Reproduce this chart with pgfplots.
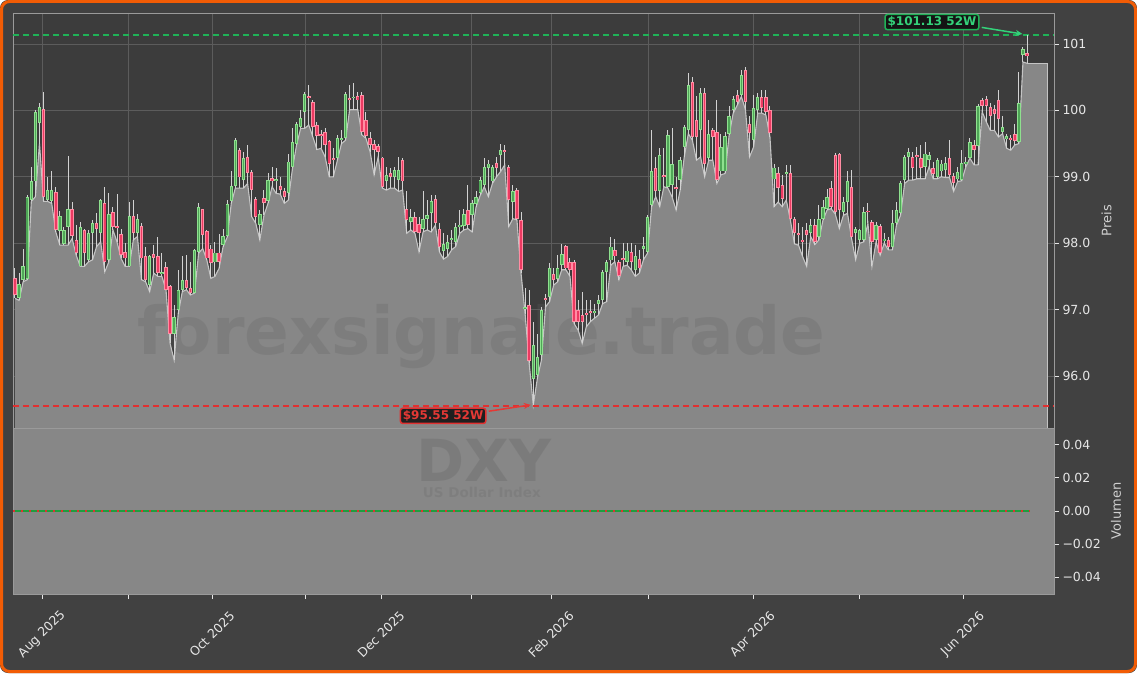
\documentclass[border=0pt]{standalone}
\usepackage{fontspec}
\setmainfont{DejaVu Sans}
\usepackage{pgfplots}
\pgfplotsset{compat=1.18}
\usepackage{pgfplotstable}
\usetikzlibrary{arrows.meta}

\definecolor{figbg}{HTML}{414141}
\definecolor{axbg}{HTML}{3C3C3C}
\definecolor{frameor}{HTML}{F25C05}
\definecolor{gridc}{HTML}{5C5C5C}
\definecolor{spine}{HTML}{9A9A9A}
\definecolor{tickc}{HTML}{E6E6E6}
\definecolor{labc}{HTML}{CFCFCF}
\definecolor{areafill}{HTML}{878787}
\definecolor{arealine}{HTML}{C4C4C4}
\definecolor{wick}{HTML}{D2D2D2}
\definecolor{upedge}{HTML}{8FE08F}
\definecolor{upface}{HTML}{4FA757}
\definecolor{dnedge}{HTML}{FF8DA3}
\definecolor{dnface}{HTML}{EC3A62}
\definecolor{hiGreen}{HTML}{1FB257}
\definecolor{hiText}{HTML}{34D27A}
\definecolor{loRed}{HTML}{E03030}
\definecolor{loText}{HTML}{E53935}
\definecolor{volGreen}{HTML}{1E9E3E}
\definecolor{wm}{HTML}{626262}

% daily candles: index, open, high, low, close
\pgfplotstableread{
i o h l c
0 97.47 97.62 97.17 97.22
1 97.18 97.55 97.14 97.39
2 97.45 97.92 97.42 97.66
3 97.46 98.73 97.45 98.69
4 98.65 99.15 98.63 98.93
5 98.93 100.01 98.70 99.97
6 99.81 100.11 99.50 100.05
7 100.02 100.27 98.63 98.70
8 98.65 98.99 98.63 98.80
9 98.63 99.08 98.60 98.80
10 98.77 98.85 98.17 98.20
11 98.19 98.48 97.97 98.41
12 97.99 98.25 97.97 98.20
13 98.25 99.32 97.97 98.52
14 98.52 98.62 98.07 98.11
15 98.05 98.27 97.82 97.85
16 97.65 98.32 97.65 98.25
17 98.20 98.22 97.65 97.85
18 97.75 98.20 97.72 98.15
19 98.15 98.35 97.75 98.30
20 98.31 98.46 97.95 98.22
21 98.15 98.67 98.02 98.65
22 98.61 98.85 97.57 97.72
23 97.75 98.75 97.72 98.44
24 98.47 98.55 98.20 98.25
25 98.26 98.74 98.02 98.23
26 98.14 98.22 97.77 97.82
27 97.87 98.00 97.65 97.77
28 97.65 98.62 97.65 98.41
29 98.41 98.65 98.05 98.15
30 98.16 98.44 98.10 98.36
31 98.26 98.30 97.45 97.77
32 97.80 97.95 97.42 97.45
33 97.37 97.82 97.27 97.80
34 97.83 97.97 97.55 97.78
35 97.80 98.10 97.50 97.55
36 97.53 97.86 97.50 97.57
37 97.64 97.72 97.30 97.30
38 97.36 97.37 96.49 96.64
39 96.63 97.07 96.24 96.89
40 96.99 97.60 96.94 97.29
41 97.30 97.81 97.27 97.45
42 97.45 97.82 97.30 97.32
43 97.32 97.72 97.22 97.25
44 97.25 97.92 97.25 97.90
45 97.87 98.61 97.85 98.55
46 98.52 98.52 97.92 98.12
47 98.19 98.20 97.75 97.77
48 97.92 97.97 97.47 97.70
49 97.71 98.02 97.50 97.86
50 97.86 98.14 97.62 97.72
51 97.97 98.22 97.95 98.11
52 98.11 98.65 98.09 98.59
53 98.63 99.08 98.60 98.86
54 98.86 99.58 98.83 99.55
55 99.41 99.44 98.83 98.99
56 98.95 99.38 98.83 99.28
57 99.30 99.48 98.90 99.06
58 99.07 99.10 98.40 98.80
59 98.67 98.70 98.30 98.40
60 98.27 98.50 98.05 98.44
61 98.68 98.80 98.42 98.60
62 98.63 99.05 98.60 98.95
63 98.98 99.15 98.85 98.93
64 98.94 99.13 98.75 98.96
65 98.86 99.00 98.74 98.80
66 98.78 98.83 98.60 98.70
67 98.75 99.35 98.65 99.23
68 99.15 99.73 99.13 99.53
69 99.50 99.83 99.48 99.80
70 99.75 100.01 99.73 99.88
71 99.98 100.28 99.73 100.24
72 100.22 100.38 99.78 100.19
73 100.12 100.16 99.60 99.75
74 99.78 99.83 99.41 99.61
75 99.64 99.70 99.43 99.61
76 99.67 99.73 99.30 99.48
77 99.54 99.55 99.00 99.19
78 99.28 99.43 99.00 99.25
79 99.28 99.63 99.25 99.59
80 99.56 99.70 99.50 99.57
81 99.59 100.28 99.55 100.25
82 100.18 100.38 100.01 100.17
83 100.19 100.41 100.01 100.20
84 100.22 100.28 100.01 100.15
85 100.23 100.27 99.63 99.68
86 99.86 99.98 99.58 99.61
87 99.58 99.68 99.38 99.48
88 99.50 99.55 99.03 99.41
89 99.46 99.50 99.30 99.38
90 99.29 99.30 98.83 98.85
91 98.94 99.15 98.80 99.03
92 99.05 99.13 98.83 99.00
93 99.00 99.15 98.83 99.10
94 98.95 99.30 98.78 99.10
95 99.25 99.28 98.80 98.93
96 98.52 98.78 98.15 98.35
97 98.32 98.52 98.20 98.40
98 98.40 98.47 98.15 98.17
99 98.29 98.40 97.87 98.16
100 98.22 98.78 98.17 98.37
101 98.37 98.65 98.20 98.42
102 98.46 98.73 98.17 98.63
103 98.67 98.73 98.27 98.30
104 98.21 98.30 97.87 97.95
105 97.89 98.15 97.76 97.99
106 97.92 98.12 97.80 98.02
107 98.05 98.20 97.90 98.07
108 98.02 98.30 97.95 98.25
109 98.25 98.50 98.15 98.28
110 98.26 98.52 98.20 98.44
111 98.50 98.88 98.22 98.27
112 98.42 98.65 98.17 98.60
113 98.59 98.78 98.55 98.70
114 98.75 99.00 98.72 98.95
115 98.88 99.28 98.85 99.15
116 99.13 99.25 98.70 99.20
117 98.93 99.18 98.90 99.15
118 99.21 99.30 99.00 99.13
119 99.33 99.50 99.08 99.40
120 99.39 99.48 99.18 99.38
121 99.15 99.18 98.25 98.65
122 98.62 98.88 98.37 98.78
123 98.80 98.83 98.35 98.37
124 98.35 98.47 97.55 97.60
125 97.02 97.32 96.94 97.03
126 97.07 97.29 96.19 96.22
127 95.96 96.82 95.56 96.47
128 96.01 96.64 95.96 96.29
129 96.32 97.04 96.24 97.00
130 97.18 97.24 97.04 97.14
131 97.19 97.70 97.12 97.62
132 97.54 97.62 97.37 97.45
133 97.46 97.82 97.42 97.62
134 97.67 97.99 97.60 97.84
135 97.96 97.97 97.60 97.62
136 97.72 97.77 97.50 97.60
137 97.71 97.75 96.79 96.82
138 97.00 97.14 96.69 96.82
139 96.92 97.27 96.49 96.82
140 96.95 97.14 96.74 96.93
141 96.97 97.14 96.82 96.95
142 96.96 97.09 96.87 96.98
143 97.09 97.22 96.92 97.14
144 97.14 97.60 97.09 97.57
145 97.57 97.74 97.12 97.72
146 97.74 98.10 97.67 97.95
147 97.90 98.07 97.72 97.80
148 97.72 97.75 97.45 97.50
149 97.77 98.00 97.65 97.75
150 97.72 98.01 97.67 97.89
151 97.87 98.01 97.60 97.72
152 97.60 97.97 97.50 97.80
153 97.76 97.90 97.55 97.62
154 97.92 98.10 97.75 97.96
155 97.87 98.42 97.85 98.40
156 98.57 99.70 98.55 99.08
157 99.13 99.30 98.70 98.78
158 98.78 99.43 98.55 99.33
159 99.03 99.44 98.85 99.00
160 98.85 99.70 98.83 99.63
161 98.88 99.73 98.70 99.19
162 98.85 99.00 98.50 98.81
163 98.95 99.30 98.80 99.25
164 99.45 99.78 99.30 99.75
165 99.70 100.56 99.65 100.38
166 100.43 100.51 99.55 99.60
167 99.85 100.21 99.25 99.60
168 99.70 100.33 99.30 100.26
169 100.26 100.33 99.00 99.20
170 99.28 99.85 99.25 99.65
171 99.70 99.73 99.25 99.60
172 99.68 100.16 98.90 98.95
173 99.08 99.65 99.03 99.45
174 99.08 99.68 99.05 99.61
175 99.65 100.06 99.63 99.92
176 100.01 100.21 99.96 100.17
177 100.23 100.31 100.08 100.13
178 100.23 100.61 100.21 100.53
179 100.61 100.66 100.01 100.13
180 99.80 99.91 99.30 99.66
181 99.55 100.23 99.45 100.04
182 100.01 100.26 99.96 100.20
183 100.20 100.31 99.96 100.03
184 100.20 100.31 99.93 99.98
185 100.01 100.06 99.60 99.66
186 98.96 99.20 98.55 99.14
187 99.06 99.15 98.62 98.83
188 98.87 99.03 98.55 98.66
189 99.05 99.18 98.65 99.07
190 99.06 99.18 98.35 98.37
191 98.37 98.40 97.99 98.15
192 98.15 98.30 97.97 98.12
193 98.05 98.25 97.80 98.03
194 98.20 98.30 97.65 98.12
195 98.15 98.37 98.10 98.27
196 98.27 98.37 97.98 98.02
197 98.10 98.57 98.05 98.37
198 98.37 98.65 98.35 98.55
199 98.52 98.81 98.50 98.70
200 98.83 98.93 98.52 98.55
201 99.33 99.36 98.44 98.47
202 99.34 99.36 98.22 98.50
203 98.47 98.70 98.42 98.62
204 98.62 99.08 98.45 98.93
205 98.85 99.10 98.07 98.10
206 98.15 98.25 97.75 98.22
207 98.05 98.22 98.00 98.20
208 98.05 98.55 98.02 98.47
209 98.49 98.60 98.30 98.47
210 98.32 98.35 97.65 98.02
211 98.05 98.32 98.02 98.27
212 98.26 98.29 97.82 97.85
213 98.04 98.15 98.00 98.07
214 98.05 98.10 97.90 97.95
215 97.95 98.50 97.90 98.30
216 98.30 98.62 98.27 98.50
217 98.45 98.93 98.42 98.90
218 98.95 99.33 98.90 99.30
219 99.30 99.43 98.95 99.38
220 99.30 99.38 98.95 99.13
221 99.33 99.45 98.97 99.30
222 99.28 99.48 98.97 99.13
223 99.15 99.53 98.97 99.35
224 99.25 99.38 99.15 99.33
225 99.13 99.23 98.97 99.04
226 99.00 99.28 98.97 99.25
227 99.08 99.25 99.00 99.20
228 99.10 99.30 98.99 99.21
229 99.28 99.55 98.99 99.03
230 99.01 99.05 98.78 98.91
231 98.96 99.15 98.93 99.07
232 98.95 99.40 98.94 99.21
233 99.20 99.30 99.15 99.23
234 99.29 99.58 99.28 99.53
235 99.48 99.55 99.18 99.41
236 99.46 100.10 99.18 100.06
237 100.16 100.18 99.98 100.06
238 100.17 100.22 99.83 100.06
239 100.05 100.11 99.70 99.91
240 100.02 100.08 99.70 99.95
241 100.15 100.31 99.60 99.87
242 99.68 99.91 99.65 99.75
243 99.57 99.65 99.43 99.61
244 99.59 99.63 99.40 99.56
245 99.65 99.80 99.48 99.54
246 99.53 100.58 99.50 100.11
247 100.83 100.96 100.73 100.93
248 100.86 101.13 100.71 100.82
}\candles

\pgfplotsset{
  panel/.style={
    scale only axis, width=1041pt,
    xmin=-0.49, xmax=254.6,
    axis line style={spine, line width=0.8pt},
    tick align=outside, major tick length=5pt,
    tick style={tickc, line width=0.8pt},
    ytick pos=right, yticklabel pos=right,
    scaled y ticks=false,
    tick label style={font=\fontsize{12.5}{14}\selectfont, text=tickc},
    xtick={6.62,27.69,48.27,71.06,89.68,111.74,131.34,155.11,180.84,206.81,232.30},
    ylabel style={font=\fontsize{13}{15}\selectfont, text=labc,
      at={(axis description cs:1,0.5)}, anchor=center},
  },
  stick/.style 2 args={draw=none, mark=none, forget plot,
    error bars/.cd, y dir=both, y explicit, error mark=none,
    error bar style={draw=#1, line width=#2}},
}

\begin{document}
\begin{tikzpicture}
\fill[figbg, rounded corners=8pt] (0pt,0pt) rectangle (1137pt,673pt);

% price panel
\begin{axis}[panel, at={(13pt,245pt)}, anchor=south west, height=415pt,
  ymin=95.217, ymax=101.467,
  axis background/.style={fill=axbg},
  ytick={96,97,98,99,100,101},
  yticklabels={96.0,97.0,98.0,99.0,100,101},
  xticklabels={}, xtick style={draw=none},
  grid=major, grid style={gridc, line width=0.8pt},
  ylabel={Preis}, ylabel style={yshift=-52.5pt},
]
\addplot[fill=areafill, draw=none] table[x=i, y=l]{\candles} \closedcycle;
\addplot[fill=areafill, draw=none] coordinates {(248,100.71) (252.9,100.71)} \closedcycle;
\node[anchor=base, font=\bfseries\fontsize{66}{66}\selectfont, text=wm, text opacity=0.26]
  at (axis cs:114.4,96.32) {forexsignale.trade};
\addplot[draw=arealine, line width=1.1pt] table[x=i, y=l]{\candles};
\addplot[draw=arealine, line width=1.1pt] coordinates {(248,100.71) (252.9,100.71) (252.9,95.217)};

\addplot[draw=hiGreen, line width=1.8pt, dash pattern=on 6pt off 4pt] coordinates {(-0.49,101.13) (254.6,101.13)};
\addplot[draw=loRed, line width=1.6pt, dash pattern=on 6pt off 4pt] coordinates {(-0.49,95.55) (254.6,95.55)};

% wicks
\addplot[stick={wick}{1pt}] table[x=i,
  y expr={0.5*(\thisrow{h}+\thisrow{l})},
  y error expr={0.5*(\thisrow{h}-\thisrow{l})}]{\candles};
% up bodies
\addplot[stick={upedge}{3.4pt}] table[x=i,
  y expr={\thisrow{o}>\thisrow{c} ? nan : 0.5*(\thisrow{o}+\thisrow{c})},
  y error expr={max(0.5*abs(\thisrow{c}-\thisrow{o}),0.012)}]{\candles};
\addplot[stick={upface}{1.5pt}] table[x=i,
  y expr={\thisrow{o}>\thisrow{c} ? nan : 0.5*(\thisrow{o}+\thisrow{c})},
  y error expr={max(0.5*abs(\thisrow{c}-\thisrow{o})-0.014,0.002)}]{\candles};
% down bodies
\addplot[stick={dnedge}{3.4pt}] table[x=i,
  y expr={\thisrow{o}>\thisrow{c} ? 0.5*(\thisrow{o}+\thisrow{c}) : nan},
  y error expr={max(0.5*abs(\thisrow{c}-\thisrow{o}),0.012)}]{\candles};
\addplot[stick={dnface}{1.5pt}] table[x=i,
  y expr={\thisrow{o}>\thisrow{c} ? 0.5*(\thisrow{o}+\thisrow{c}) : nan},
  y error expr={max(0.5*abs(\thisrow{c}-\thisrow{o})-0.014,0.002)}]{\candles};

% 52-week markers
\draw[-{Stealth[length=7pt,width=6pt]}, draw=hiText, fill=hiText, line width=1.5pt]
  (axis cs:236.9,101.25) -- (axis cs:246.9,101.15);
\node[draw=hiGreen, fill=black!92, line width=1.5pt, rounded corners=2.5pt,
  text=hiText, font=\bfseries\fontsize{12}{12}\selectfont, inner xsep=2.5pt, inner ysep=2.2pt]
  at (axis cs:224.7,101.33) {\$101.13 52W};
\draw[-{Stealth[length=7pt,width=6pt]}, draw=loText, fill=loText, line width=1.5pt]
  (axis cs:116.1,95.47) -- (axis cs:126.4,95.565);
\node[draw=loRed, fill=black!88, line width=1.5pt, rounded corners=2.5pt,
  text=loText, font=\bfseries\fontsize{12}{12}\selectfont, inner xsep=2.5pt, inner ysep=2.2pt]
  at (axis cs:104.9,95.40) {\$95.55 52W};
\end{axis}

% volume panel
\begin{axis}[panel, at={(13pt,79pt)}, anchor=south west, height=166pt,
  ymin=-0.05, ymax=0.05,
  axis background/.style={fill=areafill},
  ytick={-0.04,-0.02,0,0.02,0.04},
  yticklabels={−0.04,−0.02,0.00,0.02,0.04},
  xtick pos=left,
  xticklabels={Aug 2025,,Oct 2025,,Dec 2025,,Feb 2026,,Apr 2026,,Jun 2026},
  xticklabel style={rotate=45, anchor=center, xshift=-25pt, yshift=-25pt},
  ylabel={Volumen}, ylabel style={yshift=-62pt},
]
\node[anchor=base, font=\bfseries\fontsize{58}{58}\selectfont, text=wm, text opacity=0.3]
  at (axis cs:114.9,0.0175) {DXY};
\node[anchor=base, font=\bfseries\fontsize{13.5}{14}\selectfont, text=wm, text opacity=0.22]
  at (axis cs:114.4,0.0084) {US Dollar Index};
\addplot[draw=volGreen, line width=1.2pt] coordinates {(-0.49,0) (248.7,0)};
\addplot[draw=loRed, line width=1.2pt, dash pattern=on 2pt off 6pt] coordinates {(-0.49,0) (248.7,0)};
\end{axis}

\draw[frameor, line width=3pt, rounded corners=8pt] (1.5pt,1.5pt) rectangle (1135.5pt,671.5pt);
\end{tikzpicture}
\end{document}
